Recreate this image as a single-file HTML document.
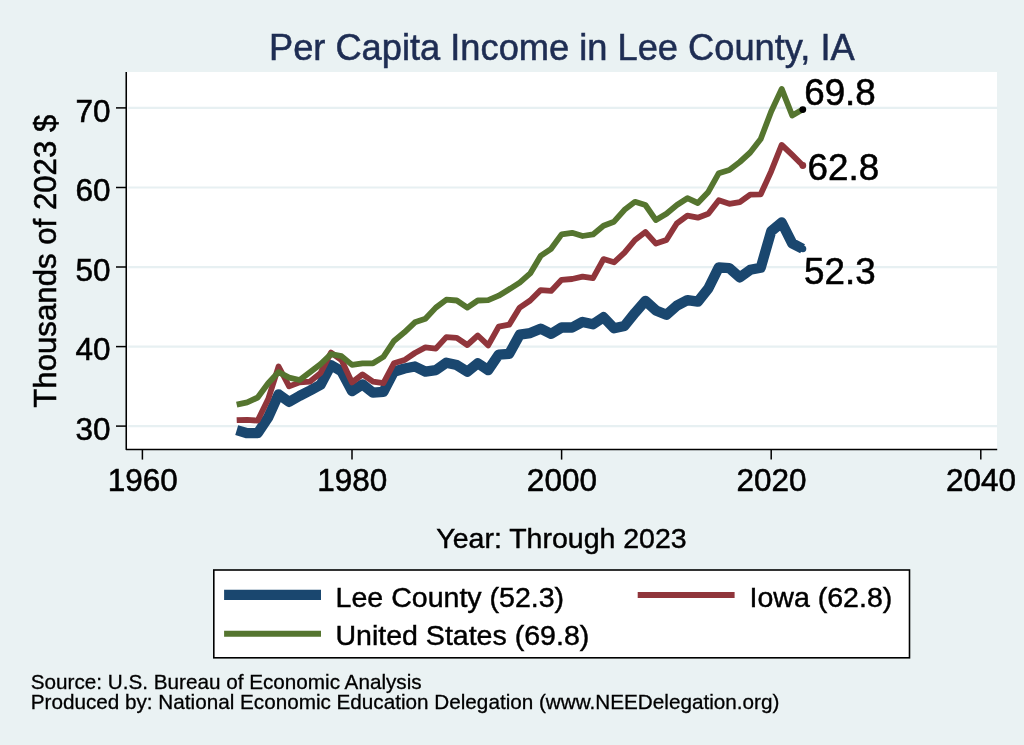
<!DOCTYPE html>
<html><head><meta charset="utf-8"><title>Per Capita Income in Lee County, IA</title>
<style>html,body{margin:0;padding:0;background:#eaf2f3;}body{width:1024px;height:745px;overflow:hidden;font-family:"Liberation Sans",sans-serif;}</style>
</head><body>
<svg width="1024" height="745" viewBox="0 0 1024 745" style="display:block;font-family:'Liberation Sans',sans-serif;will-change:transform;transform:translateZ(0)">
<rect x="0" y="0" width="1024" height="745" fill="#eaf2f3"/>
<rect x="126" y="72" width="871" height="377.5" fill="#ffffff"/>
<line x1="128.2" x2="997.2" y1="426.15" y2="426.15" stroke="#e7f0f2" stroke-width="2.2"/>
<line x1="128.2" x2="997.2" y1="346.60" y2="346.60" stroke="#e7f0f2" stroke-width="2.2"/>
<line x1="128.2" x2="997.2" y1="267.05" y2="267.05" stroke="#e7f0f2" stroke-width="2.2"/>
<line x1="128.2" x2="997.2" y1="187.50" y2="187.50" stroke="#e7f0f2" stroke-width="2.2"/>
<line x1="128.2" x2="997.2" y1="107.95" y2="107.95" stroke="#e7f0f2" stroke-width="2.2"/>
<polyline points="236.7,430.1 247.2,433.2 257.7,433.2 268.2,417.4 278.6,394.3 289.1,401.9 299.6,395.9 310.1,390.5 320.6,384.8 331.0,365.1 341.5,371.3 352.0,391.1 362.5,384.4 373.0,392.7 383.4,391.9 393.9,371.7 404.4,368.5 414.9,366.5 425.4,371.7 435.8,370.1 446.3,362.7 456.8,365.1 467.3,371.7 477.8,363.3 488.2,370.1 498.7,354.6 509.2,353.8 519.7,334.7 530.2,333.1 540.6,328.7 551.1,333.9 561.6,327.5 572.1,327.5 582.6,321.9 593.0,324.3 603.5,317.2 614.0,328.3 624.5,325.9 635.0,312.8 645.4,300.9 655.9,310.4 666.4,314.8 676.9,305.6 687.4,300.1 697.8,301.7 708.3,288.5 718.8,267.4 729.3,268.2 739.8,277.4 750.2,269.8 760.7,267.8 771.2,231.3 781.7,222.5 792.2,243.4 802.6,248.8" fill="none" stroke="#1a476f" stroke-width="10.3" stroke-linejoin="round" stroke-linecap="butt"/>
<polyline points="236.7,420.2 247.2,419.8 257.7,420.6 268.2,399.1 278.6,366.5 289.1,386.4 299.6,382.4 310.1,381.6 320.6,372.9 331.0,352.6 341.5,360.1 352.0,382.4 362.5,374.4 373.0,381.6 383.4,383.2 393.9,363.3 404.4,360.1 414.9,353.0 425.4,347.4 435.8,348.6 446.3,337.1 456.8,337.8 467.3,345.0 477.8,335.5 488.2,345.4 498.7,326.7 509.2,324.7 519.7,307.6 530.2,300.5 540.6,290.1 551.1,290.9 561.6,279.8 572.1,279.0 582.6,276.6 593.0,278.2 603.5,259.1 614.0,262.3 624.5,252.7 635.0,240.0 645.4,232.0 655.9,243.6 666.4,240.0 676.9,223.3 687.4,215.7 697.8,217.7 708.3,213.8 718.8,200.2 729.3,203.8 739.8,202.2 750.2,194.7 760.7,194.3 771.2,171.2 781.7,144.9 792.2,154.9 802.6,165.2" fill="none" stroke="#90353b" stroke-width="5.8" stroke-linejoin="round" stroke-linecap="butt"/>
<polyline points="236.7,404.7 247.2,402.3 257.7,397.5 268.2,383.2 278.6,372.1 289.1,377.6 299.6,380.0 310.1,372.1 320.6,364.1 331.0,354.2 341.5,356.1 352.0,364.9 362.5,363.3 373.0,363.3 383.4,356.9 393.9,341.0 404.4,332.3 414.9,322.3 425.4,318.8 435.8,307.6 446.3,299.7 456.8,300.5 467.3,307.6 477.8,300.5 488.2,300.1 498.7,295.7 509.2,289.3 519.7,282.6 530.2,273.4 540.6,255.9 551.1,248.8 561.6,234.4 572.1,232.8 582.6,236.0 593.0,234.4 603.5,225.7 614.0,221.7 624.5,209.8 635.0,201.8 645.4,205.0 655.9,220.1 666.4,213.8 676.9,205.0 687.4,198.2 697.8,203.0 708.3,191.9 718.8,173.2 729.3,170.0 739.8,162.0 750.2,152.5 760.7,139.0 771.2,111.5 781.7,88.9 792.2,115.5 802.6,109.5" fill="none" stroke="#55752f" stroke-width="5.8" stroke-linejoin="round" stroke-linecap="butt"/>
<circle cx="802.9" cy="248.8" r="3.4" fill="#1a476f"/>
<circle cx="802.8" cy="165.5" r="3.4" fill="#90353b"/>
<circle cx="802.8" cy="109.6" r="3.4" fill="#000"/>
<polyline points="126.25,72 126.25,449.5 997.2,449.5" fill="none" stroke="#000" stroke-width="1.55" stroke-linejoin="round"/>
<line x1="116" x2="126.25" y1="426.1" y2="426.1" stroke="#000" stroke-width="1.5"/>
<text x="110.6" y="439.8" font-size="31.5" text-anchor="end" fill="#000" stroke="#000" stroke-width="0.55">30</text>
<line x1="116" x2="126.25" y1="346.6" y2="346.6" stroke="#000" stroke-width="1.5"/>
<text x="110.6" y="360.3" font-size="31.5" text-anchor="end" fill="#000" stroke="#000" stroke-width="0.55">40</text>
<line x1="116" x2="126.25" y1="267.0" y2="267.0" stroke="#000" stroke-width="1.5"/>
<text x="110.6" y="280.7" font-size="31.5" text-anchor="end" fill="#000" stroke="#000" stroke-width="0.55">50</text>
<line x1="116" x2="126.25" y1="187.5" y2="187.5" stroke="#000" stroke-width="1.5"/>
<text x="110.6" y="201.2" font-size="31.5" text-anchor="end" fill="#000" stroke="#000" stroke-width="0.55">60</text>
<line x1="116" x2="126.25" y1="107.9" y2="107.9" stroke="#000" stroke-width="1.5"/>
<text x="110.6" y="121.6" font-size="31.5" text-anchor="end" fill="#000" stroke="#000" stroke-width="0.55">70</text>
<line x1="142.4" x2="142.4" y1="449.5" y2="459.6" stroke="#000" stroke-width="1.5"/>
<text x="142.7" y="490.7" font-size="31.5" text-anchor="middle" fill="#000" stroke="#000" stroke-width="0.55">1960</text>
<line x1="352.0" x2="352.0" y1="449.5" y2="459.6" stroke="#000" stroke-width="1.5"/>
<text x="352.3" y="490.7" font-size="31.5" text-anchor="middle" fill="#000" stroke="#000" stroke-width="0.55">1980</text>
<line x1="561.6" x2="561.6" y1="449.5" y2="459.6" stroke="#000" stroke-width="1.5"/>
<text x="561.9" y="490.7" font-size="31.5" text-anchor="middle" fill="#000" stroke="#000" stroke-width="0.55">2000</text>
<line x1="771.2" x2="771.2" y1="449.5" y2="459.6" stroke="#000" stroke-width="1.5"/>
<text x="771.5" y="490.7" font-size="31.5" text-anchor="middle" fill="#000" stroke="#000" stroke-width="0.55">2020</text>
<line x1="980.8" x2="980.8" y1="449.5" y2="459.6" stroke="#000" stroke-width="1.5"/>
<text x="981.1" y="490.7" font-size="31.5" text-anchor="middle" fill="#000" stroke="#000" stroke-width="0.55">2040</text>
<text x="804.2" y="104.7" font-size="36.8" fill="#000" stroke="#000" stroke-width="0.55">69.8</text>
<text x="807.6" y="180.4" font-size="36.8" fill="#000" stroke="#000" stroke-width="0.55">62.8</text>
<text x="804.0" y="283.6" font-size="36.8" fill="#000" stroke="#000" stroke-width="0.55">52.3</text>
<text x="561.8" y="59.8" font-size="36.25" text-anchor="middle" fill="#1e2d53" stroke="#1e2d53" stroke-width="0.55">Per Capita Income in Lee County, IA</text>
<text transform="translate(56.4,261.2) rotate(-90)" font-size="31.2" text-anchor="middle" fill="#000" stroke="#000" stroke-width="0.55">Thousands of 2023 $</text>
<text x="561.5" y="548.4" font-size="28.5" text-anchor="middle" fill="#000" stroke="#000" stroke-width="0.45">Year: Through 2023</text>
<rect x="213.8" y="570.0" width="695.7" height="87.8" fill="#fff" stroke="#000" stroke-width="1.6"/>
<line x1="224.1" x2="321" y1="594.9" y2="594.9" stroke="#1a476f" stroke-width="10.3"/>
<line x1="224.1" x2="321" y1="633.7" y2="633.7" stroke="#55752f" stroke-width="6.1"/>
<line x1="637.7" x2="734.6" y1="595" y2="595" stroke="#90353b" stroke-width="6.1"/>
<text x="335.6" y="606.9" font-size="28.55" fill="#000" stroke="#000" stroke-width="0.45">Lee County (52.3)</text>
<text x="335.4" y="645" font-size="28.55" fill="#000" stroke="#000" stroke-width="0.45">United States (69.8)</text>
<text x="749.5" y="606.9" font-size="28.55" fill="#000" stroke="#000" stroke-width="0.45">Iowa (62.8)</text>
<text x="30.7" y="688.7" font-size="20.7" fill="#000" stroke="#000" stroke-width="0.3">Source: U.S. Bureau of Economic Analysis</text>
<text x="30.7" y="709.2" font-size="20.7" fill="#000" stroke="#000" stroke-width="0.3">Produced by: National Economic Education Delegation (www.NEEDelegation.org)</text>
</svg>
</body></html>
